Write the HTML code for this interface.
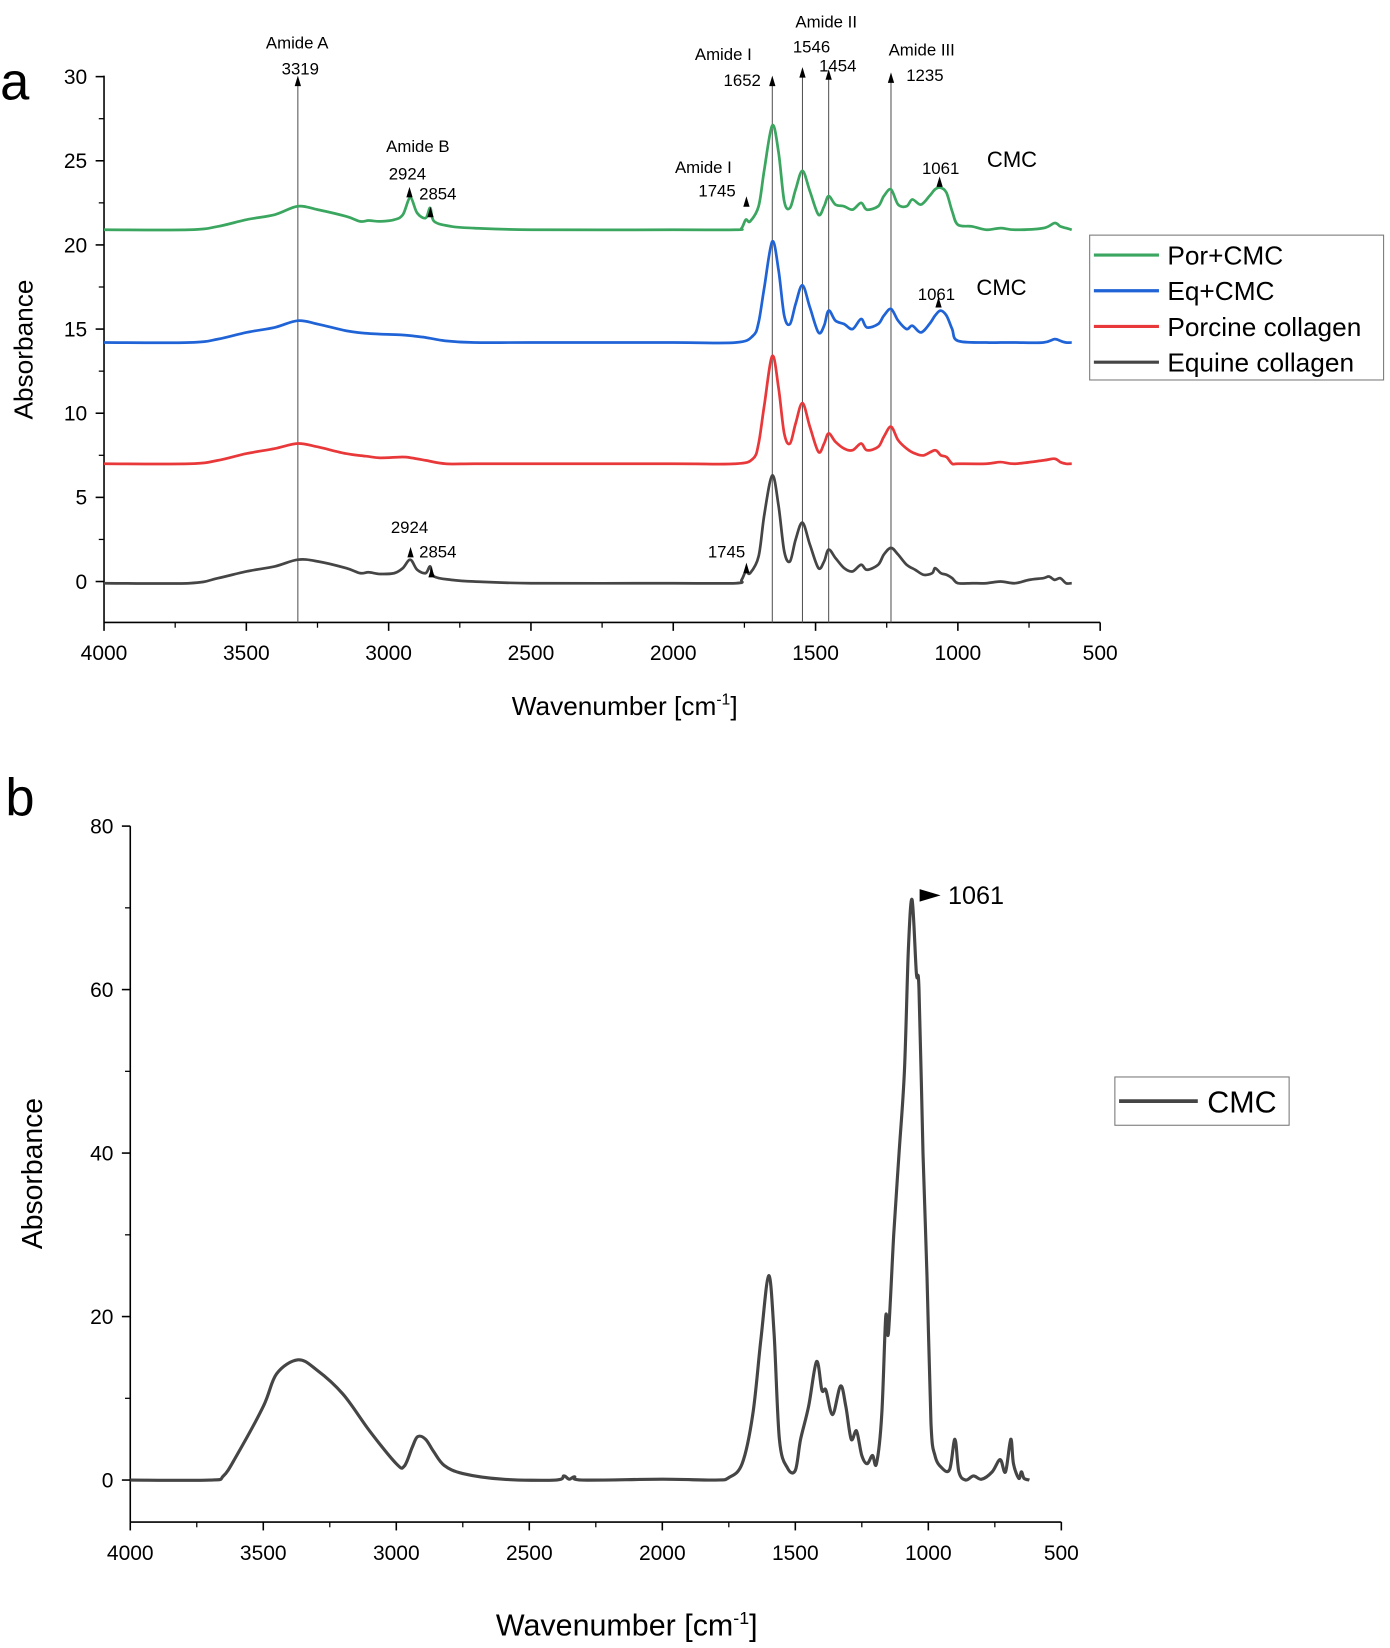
<!DOCTYPE html>
<html><head><meta charset="utf-8"><style>
html,body{margin:0;padding:0;background:#fff;}
svg{display:block;font-family:"Liberation Sans",sans-serif;}
</style></head><body>
<svg id="svg" width="1390" height="1648" viewBox="0 0 1324 1570" xmlns="http://www.w3.org/2000/svg">
<g id="pa"></g>
<g id="pb"></g>
</svg>
<script>
const NS="http://www.w3.org/2000/svg";
// ---------- Panel A data ----------
const xTicksA=[4000,3500,3000,2500,2000,1500,1000,500];
const yTicksA=[0,5,10,15,20,25,30];
const seriesNamesA=["Por+CMC","Eq+CMC","Porcine collagen","Equine collagen"];
const seriesColorsA=["#3aa65f","#1f63d6","#e8383a","#454545"];
const equineWn=[4000,3700,3600,3500,3400,3319,3250,3150,3100,3070,3030,2980,2950,2924,2900,2870,2854,2840,2780,2700,2500,2000,1780,1760,1745,1730,1700,1680,1652,1630,1610,1590,1570,1546,1520,1490,1470,1454,1430,1400,1370,1340,1320,1280,1260,1235,1210,1180,1150,1120,1090,1080,1060,1040,1020,1000,950,900,850,800,750,700,680,660,640,620,600];
const equineAbs=[-0.1,-0.1,0.2,0.6,0.9,1.3,1.2,0.8,0.5,0.55,0.45,0.5,0.8,1.3,0.7,0.5,0.9,0.3,0.1,0,-0.1,-0.1,-0.1,0.1,0.6,0.5,1.5,4,6.3,4.5,1.8,1.2,2.5,3.5,2.2,0.8,1.2,1.9,1.4,0.8,0.6,1.0,0.7,1.0,1.6,2.0,1.6,1.0,0.7,0.4,0.5,0.8,0.5,0.4,0.2,-0.1,-0.1,-0.1,0,-0.1,0.1,0.2,0.3,0.1,0.2,-0.1,-0.1];
const porcineWn=[4000,3700,3600,3500,3400,3319,3250,3150,3080,3030,2950,2920,2870,2800,2700,2500,2000,1780,1720,1700,1680,1652,1630,1610,1590,1570,1546,1520,1490,1470,1454,1430,1400,1370,1340,1320,1280,1260,1235,1210,1180,1150,1120,1080,1060,1040,1020,1000,900,850,800,700,660,640,620,600];
const porcineAbs=[7.0,7.0,7.2,7.6,7.9,8.2,8.0,7.6,7.45,7.35,7.4,7.35,7.2,7.0,7.0,7.0,7.0,7.0,7.3,8.2,10.5,13.4,11.5,8.8,8.2,9.4,10.6,9.2,7.7,8.2,8.8,8.3,7.9,7.8,8.2,7.8,8.0,8.6,9.2,8.4,7.9,7.6,7.5,7.8,7.5,7.4,7.0,7.0,7.0,7.1,7.0,7.2,7.3,7.1,7.0,7.0];
const eqcmcWn=[4000,3700,3600,3500,3400,3319,3250,3150,3080,3030,2950,2920,2870,2800,2700,2500,2000,1780,1720,1700,1680,1652,1630,1610,1590,1570,1546,1520,1490,1470,1454,1430,1400,1370,1340,1320,1280,1260,1235,1210,1180,1160,1130,1100,1080,1061,1040,1020,1000,900,850,800,700,660,640,620,600];
const eqcmcAbs=[14.2,14.2,14.4,14.8,15.1,15.5,15.3,14.9,14.75,14.7,14.65,14.6,14.5,14.3,14.2,14.2,14.2,14.2,14.6,15.4,17.5,20.2,18.5,15.8,15.3,16.5,17.6,16.3,14.8,15.2,16.1,15.5,15.3,15.0,15.6,15.1,15.3,15.8,16.2,15.5,15.0,15.2,14.8,15.3,15.8,16.1,15.8,15.0,14.3,14.2,14.2,14.2,14.2,14.4,14.3,14.2,14.2];
const porcmcWn=[4000,3700,3600,3500,3400,3319,3250,3150,3100,3070,3030,2980,2950,2924,2900,2870,2854,2840,2780,2700,2500,2000,1780,1760,1745,1730,1700,1680,1652,1630,1610,1590,1570,1546,1520,1490,1470,1454,1430,1400,1370,1340,1320,1280,1260,1235,1210,1180,1160,1130,1100,1080,1061,1040,1020,1000,950,900,850,800,700,660,640,620,600];
const porcmcAbs=[20.9,20.9,21.1,21.5,21.8,22.3,22.1,21.7,21.4,21.45,21.4,21.5,21.8,22.8,21.9,21.6,22.2,21.4,21.1,21.0,20.9,20.9,20.9,21.0,21.5,21.4,22.3,24.5,27.1,25.5,22.6,22.2,23.3,24.4,23.2,21.8,22.3,22.9,22.4,22.3,22.1,22.5,22.1,22.3,22.9,23.3,22.4,22.3,22.7,22.4,22.9,23.3,23.4,23.1,22.0,21.2,21.1,20.9,21.0,20.9,21.0,21.3,21.1,21.0,20.9];
const peakLinesA=[3319,1652,1546,1454,1235];
// ---------- Panel B data ----------
const xTicksB=[4000,3500,3000,2500,2000,1500,1000,500];
const yTicksB=[0,20,40,60,80];
const cmcWn=[4000,3700,3650,3600,3500,3450,3370,3300,3200,3100,3000,2970,2940,2920,2890,2860,2820,2750,2600,2400,2370,2350,2330,2300,2000,1800,1750,1700,1660,1630,1600,1580,1560,1530,1500,1480,1450,1420,1400,1385,1360,1330,1310,1290,1270,1250,1230,1210,1195,1175,1160,1150,1130,1110,1090,1075,1061,1045,1035,1020,1005,990,975,950,920,900,885,860,830,800,760,730,710,690,680,660,650,640,620];
const cmcAbs=[0,0,0.5,3,9,13,14.7,13.5,10.5,6,2,1.7,4,5.3,5,3.5,1.8,0.8,0.1,0,0.5,0.1,0.4,0,0.1,0,0.3,2,8,17,25,18,5,1.5,1.2,5,9,14.5,11,11,8,11.5,9,5,6,3,2,3,2,8,20,18,30,40,50,65,71,62,60,40,25,7,3,1.5,1.3,5,1,0,0.5,0.1,1,2.5,1,5,2,0.2,1,0.2,0];

function el(tag,attrs,parent,text){const e=document.createElementNS(NS,tag);for(const k in attrs)e.setAttribute(k,attrs[k]);if(text!==undefined)e.textContent=text;parent.appendChild(e);return e;}
function smoothPath(pts){let d="M"+pts[0][0].toFixed(1)+","+pts[0][1].toFixed(1);
 for(let i=0;i<pts.length-1;i++){const p0=pts[Math.max(0,i-1)],p1=pts[i],p2=pts[i+1],p3=pts[Math.min(pts.length-1,i+2)];
  const c1=[p1[0]+(p2[0]-p0[0])/6,p1[1]+(p2[1]-p0[1])/6],c2=[p2[0]-(p3[0]-p1[0])/6,p2[1]-(p3[1]-p1[1])/6];
  d+=`C${c1[0].toFixed(1)},${c1[1].toFixed(1)} ${c2[0].toFixed(1)},${c2[1].toFixed(1)} ${p2[0].toFixed(1)},${p2[1].toFixed(1)}`;}
 return d;}

function axes(g,X,Y,x0,x1,ytop,ybot,xt,yt,minorY){
 el("line",{x1:x0,y1:ytop,x2:x0,y2:ybot,stroke:"#000","stroke-width":1.5},g);
 el("line",{x1:x0,y1:ybot,x2:x1,y2:ybot,stroke:"#000","stroke-width":1.5},g);
 xt.forEach((v,i)=>{const x=X(v);
  const t=el("line",{x1:x,y1:ybot,x2:x,y2:ybot+8,stroke:"#000","stroke-width":1.5},g);
  const lb=el("text",{x:x,y:ybot+36,"font-size":20,"text-anchor":"middle"},g,String(v));
  
  
  if(i<xt.length-1){const m=X(v-250);el("line",{x1:m,y1:ybot,x2:m,y2:ybot+5,stroke:"#000","stroke-width":1.2},g);}
 });
 yt.forEach((v,i)=>{const y=Y(v);
  el("line",{x1:x0-8,y1:y,x2:x0,y2:y,stroke:"#000","stroke-width":1.5},g);
  const lb=el("text",{x:x0-16,y:y+7,"font-size":20,"text-anchor":"end"},g,String(v));
  
  
  const m=Y(v-minorY);if(m<ybot)el("line",{x1:x0-5,y1:m,x2:x0,y2:m,stroke:"#000","stroke-width":1.2},g);
 });
}

// ---------- Panel A ----------
(function(){
 const g=document.getElementById("pa");
 const X=v=>99+(4000-v)*(1048-99)/3500, Y=v=>554-v*(554-73)/30;
 axes(g,X,Y,99,1048,72,593,xTicksA,yTicksA,2.5);
 const t1=el("text",{x:0,y:95,"font-size":50},g,"a");
 const yl=el("text",{x:0,y:0,"font-size":25,"text-anchor":"middle",transform:"translate(31,333) rotate(-90)"},g,"Absorbance");
 
 const xl=el("text",{x:595,y:681,"font-size":25,"text-anchor":"middle"},g);
 
 xl.innerHTML='Wavenumber [cm<tspan dy="-10" font-size="15">-1</tspan><tspan dy="10">]</tspan>';
 const lineTops={3319:72,1652:72,1546:64,1454:66,1235:69};
 peakLinesA.forEach(w=>{const x=X(w);
  const ln=el("line",{x1:x,y1:lineTops[w]+6,x2:x,y2:593,stroke:"#555","stroke-width":1},g);
  
  el("path",{d:`M${x-3},${lineTops[w]+10} L${x},${lineTops[w]} L${x+3},${lineTops[w]+10}Z`,fill:"#000"},g);
 });
 const sets=[[porcmcWn,porcmcAbs],[eqcmcWn,eqcmcAbs],[porcineWn,porcineAbs],[equineWn,equineAbs]];
 sets.forEach((s,i)=>{const pts=s[0].map((w,j)=>[X(w),Y(s[1][j])]);
  const p=el("path",{d:smoothPath(pts),fill:"none",stroke:seriesColorsA[i],"stroke-width":2.6,"stroke-linejoin":"round"},g);
  
  
 });
 const labels=[["Amide A",283,40],["3319",286,65],["Amide B",398,139],["2924",388,165],["2854",417,184],["Amide I",689,51],["1652",707,76],["Amide II",787,20],["1546",773,44],["1454",798,62],["Amide III",878,47],["1235",881,71],["Amide I",670,159],["1745",683,181],["1061",896,160],["1061",892,280],["2924",390,502],["2854",417,525],["1745",692,525]];
 labels.forEach(l=>{const t=el("text",{x:l[1],y:l[2]+6,"font-size":16,"text-anchor":"middle"},g,l[0]);});
 const arrows=[[390,178],[410,197],[711,187],[895,168],[894,283],[391,521],[411,540],[711,536]];
 arrows.forEach(a=>el("path",{d:`M${a[0]-3},${a[1]+10} L${a[0]},${a[1]} L${a[0]+3},${a[1]+10}Z`,fill:"#000"},g));
 const c1=el("text",{x:964,y:159,"font-size":21,"text-anchor":"middle"},g,"CMC");
 const c2=el("text",{x:954,y:281,"font-size":21,"text-anchor":"middle"},g,"CMC");
 const lg=el("g",{},g);
 el("rect",{x:1038,y:224,width:280,height:138,fill:"#fff",stroke:"#777","stroke-width":1},lg);
 seriesNamesA.forEach((n,i)=>{const y=243+i*34;
  const e=el("g",{},lg);
  el("line",{x1:1042,y1:y,x2:1104,y2:y,stroke:seriesColorsA[i],"stroke-width":3},e);
  el("text",{x:1112,y:y+9,"font-size":25},e,n);
 });
})();

// ---------- Panel B ----------
(function(){
 const g=document.getElementById("pb");
 const X=v=>124+(4000-v)*(1011-124)/3500, Y=v=>1410-v*(1410-787)/80;
 axes(g,X,Y,124,1011,787,1450,xTicksB,yTicksB,10);
 const t1=el("text",{x:5,y:777,"font-size":50},g,"b");
 const yl=el("text",{x:0,y:0,"font-size":27,"text-anchor":"middle",transform:"translate(40,1118) rotate(-90)"},g,"Absorbance");
 
 const xl=el("text",{x:597,y:1558,"font-size":29,"text-anchor":"middle"},g);
 
 xl.innerHTML='Wavenumber [cm<tspan dy="-11" font-size="17">-1</tspan><tspan dy="11">]</tspan>';
 const pts=cmcWn.map((w,j)=>[X(w),Y(cmcAbs[j])]);
 const p=el("path",{d:smoothPath(pts),fill:"none",stroke:"#454545","stroke-width":3,"stroke-linejoin":"round"},g);
 
 el("path",{d:"M876,847 L896,853 L876,859Z",fill:"#000"},g);
 const a=el("text",{x:903,y:861,"font-size":24},g,"1061");
 const lg=el("g",{},g);
 el("rect",{x:1062,y:1026,width:166,height:46,fill:"#fff",stroke:"#777","stroke-width":1},lg);
 const e=el("g",{},lg);
 el("line",{x1:1066,y1:1049,x2:1141,y2:1049,stroke:"#454545","stroke-width":3.5},e);
 el("text",{x:1150,y:1060,"font-size":29},e,"CMC");
})();
</script>
</body></html>
